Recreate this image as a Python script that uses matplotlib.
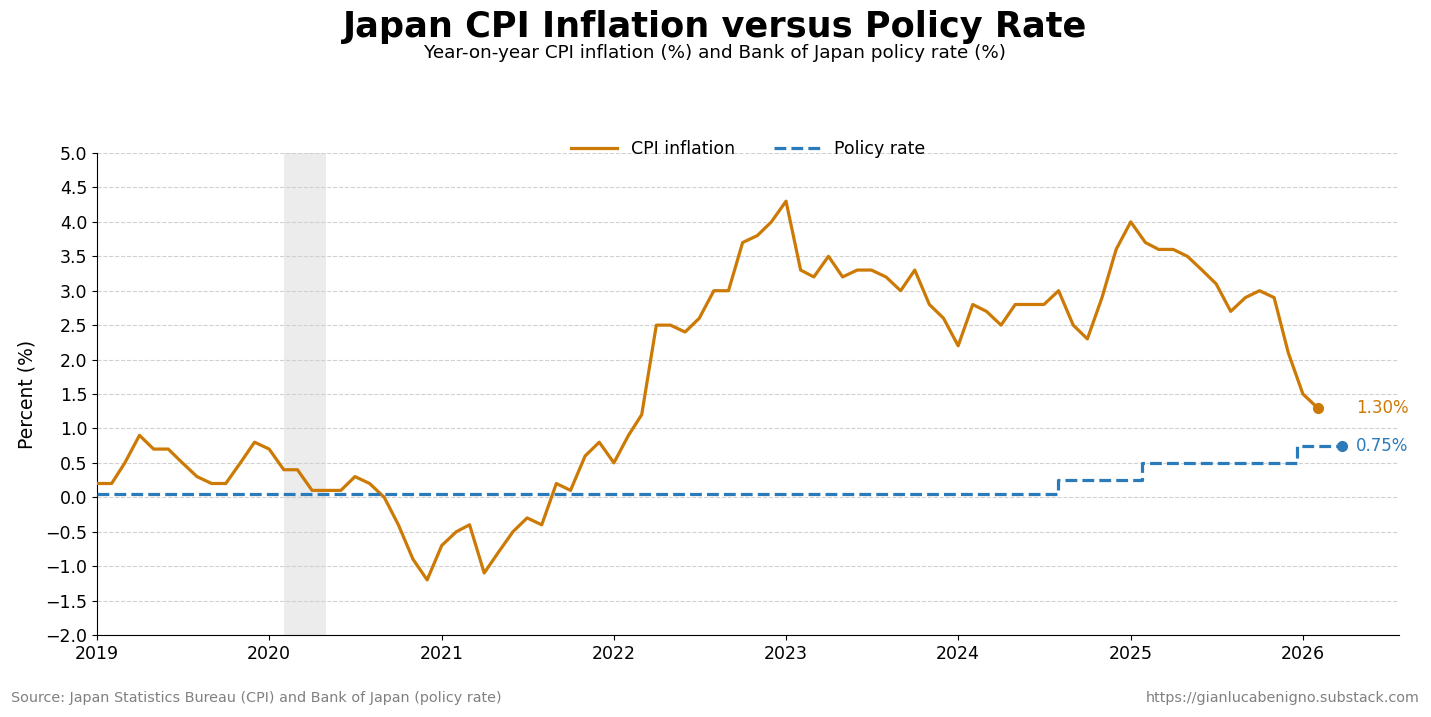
import matplotlib
matplotlib.use("Agg")
import matplotlib.pyplot as plt
import matplotlib.dates as mdates
import matplotlib.ticker as mticker
import numpy as np
import pandas as pd

# ---- data ----
cpi_start = "2019-01-01"
cpi_values = [
    0.2, 0.2, 0.5, 0.9, 0.7, 0.7, 0.5, 0.3, 0.2, 0.2, 0.5, 0.8,      # 2019
    0.7, 0.4, 0.4, 0.1, 0.1, 0.1, 0.3, 0.2, 0.0, -0.4, -0.9, -1.2,   # 2020
    -0.7, -0.5, -0.4, -1.1, -0.8, -0.5, -0.3, -0.4, 0.2, 0.1, 0.6, 0.8,  # 2021
    0.5, 0.9, 1.2, 2.5, 2.5, 2.4, 2.6, 3.0, 3.0, 3.7, 3.8, 4.0,      # 2022
    4.3, 3.3, 3.2, 3.5, 3.2, 3.3, 3.3, 3.2, 3.0, 3.3, 2.8, 2.6,      # 2023
    2.2, 2.8, 2.7, 2.5, 2.8, 2.8, 2.8, 3.0, 2.5, 2.3, 2.9, 3.6,      # 2024
    4.0, 3.7, 3.6, 3.6, 3.5, 3.3, 3.1, 2.7, 2.9, 3.0, 2.9, 2.1,      # 2025
    1.5, 1.3,                                                        # 2026
]
policy_dates = ["2019-01-01", "2024-07-31", "2025-01-24", "2025-12-19", "2026-03-24"]
policy_values = [0.05, 0.25, 0.50, 0.75, 0.75]
recession_start = "2020-02-01"
recession_end = "2020-05-01"
y_ticks = [-2.0, -1.5, -1.0, -0.5, 0.0, 0.5, 1.0, 1.5, 2.0, 2.5, 3.0, 3.5, 4.0, 4.5, 5.0]

title = "Japan CPI Inflation versus Policy Rate"
subtitle = "Year-on-year CPI inflation (%) and Bank of Japan policy rate (%)"
source = "Source: Japan Statistics Bureau (CPI) and Bank of Japan (policy rate)"
url = "https://gianlucabenigno.substack.com"

CPI_COLOR = "#CC7A05"
POL_COLOR = "#2B7BBA"

cpi_dates = pd.date_range(cpi_start, periods=len(cpi_values), freq="MS")
pol_dates = pd.to_datetime(policy_dates)

fig = plt.figure(figsize=(14.31, 7.17), dpi=100)
ax = fig.add_axes([0.0678, 0.1144, 0.9099, 0.6722])

ax.axvspan(pd.Timestamp(recession_start), pd.Timestamp(recession_end),
           color="#e0e0e0", alpha=0.6, lw=0, zorder=0)

ax.plot(cpi_dates, cpi_values, color=CPI_COLOR, lw=2.3, label="CPI inflation", zorder=3)
ax.plot(pol_dates, policy_values, color=POL_COLOR, lw=2.3, ls="--",
        drawstyle="steps-post", label="Policy rate", zorder=3)

ax.plot(cpi_dates[-1], cpi_values[-1], "o", color=CPI_COLOR, ms=7, zorder=4)
ax.plot(pol_dates[-1], policy_values[-1], "o", color=POL_COLOR, ms=7, zorder=4)

label_x = pol_dates[-1] + pd.Timedelta(days=30)
ax.text(label_x, cpi_values[-1], f"{cpi_values[-1]:.2f}%", color=CPI_COLOR,
        fontsize=12, va="center", ha="left")
ax.text(label_x, policy_values[-1], f"{policy_values[-1]:.2f}%", color=POL_COLOR,
        fontsize=12, va="center", ha="left")

ax.set_xlim(pd.Timestamp("2019-01-01"), pol_dates[-1] + pd.Timedelta(days=122))
ax.set_ylim(-2.0, 5.0)
ax.set_yticks(y_ticks)
ax.yaxis.set_major_formatter(mticker.FuncFormatter(
    lambda v, p: f"{v:.1f}".replace("-", "\u2212")))
ax.xaxis.set_major_locator(mdates.YearLocator())
ax.xaxis.set_major_formatter(mdates.DateFormatter("%Y"))
ax.tick_params(labelsize=12.5)
ax.set_ylabel("Percent (%)", fontsize=13.5, labelpad=6)

ax.grid(axis="y", ls="--", color="#cccccc", lw=0.8, alpha=0.9)
ax.grid(axis="x", visible=False)
ax.spines["top"].set_visible(False)
ax.spines["right"].set_visible(False)

ax.legend(loc="lower center", bbox_to_anchor=(0.5, 0.958), ncol=2, frameon=False,
          fontsize=12.5, handlelength=2.7, columnspacing=2.2)

fig.text(0.5, 0.962, title, ha="center", va="center", fontsize=25.3, fontweight="bold")
fig.text(0.5, 0.926, subtitle, ha="center", va="center", fontsize=13.2)
fig.text(0.008, 0.027, source, ha="left", va="center", fontsize=10.4, color="#808080")
fig.text(0.992, 0.027, url, ha="right", va="center", fontsize=10.4, color="#808080")

fig.savefig("out.png", dpi=100)
